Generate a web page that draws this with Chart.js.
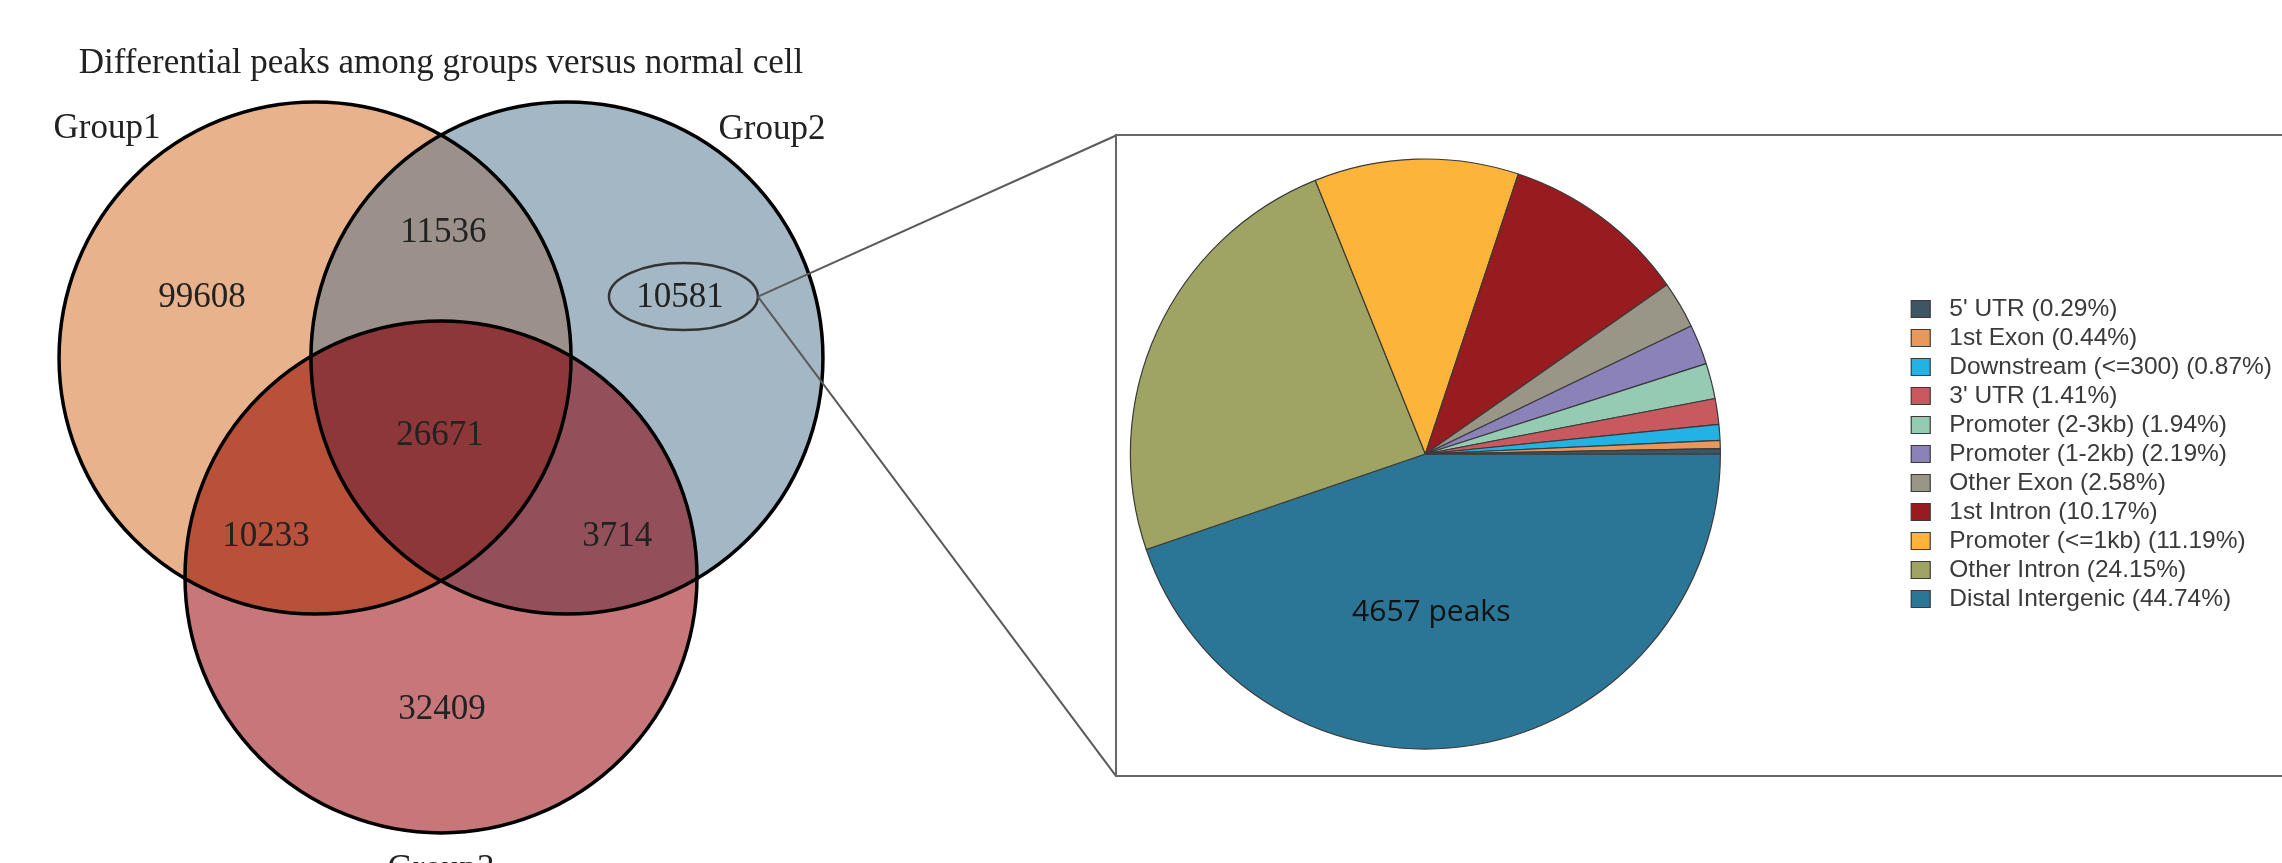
<!DOCTYPE html>
<html>
<head>
<meta charset="utf-8">
<script src="https://cdn.jsdelivr.net/npm/chart.js@4.4.0/dist/chart.umd.min.js"></script>
<style>
  html, body { margin: 0; padding: 0; background: #fff; overflow: hidden; }
  body { width: 2282px; height: 863px; position: relative; }
  #venn { position: absolute; left: 0; top: 0; }
  #zoomBox { position: absolute; left: 1115px; top: 134px; width: 1300px; height: 639px; border: 2px solid #666; }
  #pie { position: absolute; left: 944px; top: 138px; }
</style>
</head>
<body>
<canvas id="venn" width="1120" height="863"></canvas>
<div id="zoomBox"></div>
<canvas id="pie" width="1338" height="636"></canvas>
<script>
// ---- venn data ----
const vennTitle = 'Differential peaks among groups versus normal cell';
const vennSets = ['Group1', 'Group2', 'Group3'];
const vennCenterX = [-0.492, 0.492, 0];
const vennCenterY = [0, 0, -0.855];
const vennRadius = [1, 1, 1];
const setLabelX = [-1.305, 1.293, 0];
const setLabelY = [0.859, 0.855, -2.035];

// regions: which sets they belong to, their counts and label spots
const regionSets = [[0], [0, 1], [1], [0, 1, 2], [0, 2], [1, 2], [2]];
const regionCounts = [99608, 11536, 10581, 26671, 10233, 3714, 32409];
const regionX = [-0.934, 0.009, 0.934, -0.004, -0.684, 0.688, 0.004];
const regionY = [0.245, 0.5, 0.246, -0.293, -0.686, -0.686, -1.362];
const regionColors = ['#E8B38C', '#9B918A', '#A4B7C5', '#8D3738', '#B8503A', '#93505A', '#C7777A'];

// the region picked out for annotation (10581) and the lines to the zoom box
const pickedRegion = 2;
const pickedRx = 0.291, pickedRy = 0.131;
const zoomLineX = [2.637, 2.637];
const zoomLineY = [0.869, -1.633];

// ---- pie data ----
const totalPeaks = 4657;
const annoLabels = ["5' UTR", '1st Exon', 'Downstream (<=300)', "3' UTR", 'Promoter (2-3kb)',
  'Promoter (1-2kb)', 'Other Exon', '1st Intron', 'Promoter (<=1kb)', 'Other Intron', 'Distal Intergenic'];
const annoPercent = [0.29, 0.44, 0.87, 1.41, 1.94, 2.19, 2.58, 10.17, 11.19, 24.15, 44.74];
const annoColors = ['#3E5664', '#E8985A', '#22B2E4', '#C8595E', '#95CBB3', '#8A82B8',
  '#9A9687', '#971B1F', '#FDB43A', '#A0A462', '#2B7697'];

const SERIF = '"Liberation Serif", "Times New Roman", serif';

const vennPlugin = {
  id: 'vennRegions',
  beforeDatasetsDraw(chart) {
    const {ctx, width, height} = chart;
    const {x, y} = chart.scales;
    const px = vennCenterX.map(v => x.getPixelForValue(v));
    const py = vennCenterY.map(v => y.getPixelForValue(v));
    const pr = vennRadius.map(r => x.getPixelForValue(r) - x.getPixelForValue(0));
    regionSets.forEach((members, k) => {
      ctx.save();
      for (let i = 0; i < vennSets.length; i++) {
        ctx.beginPath();
        if (members.includes(i)) {
          ctx.arc(px[i], py[i], pr[i], 0, Math.PI * 2);
          ctx.clip();
        } else {
          ctx.rect(0, 0, width, height);
          ctx.arc(px[i], py[i], pr[i], 0, Math.PI * 2);
          ctx.clip('evenodd');
        }
      }
      ctx.fillStyle = regionColors[k];
      ctx.fillRect(0, 0, width, height);
      ctx.restore();
    });
  },
  afterDatasetsDraw(chart) {
    const {ctx} = chart;
    const {x, y} = chart.scales;
    const unit = x.getPixelForValue(1) - x.getPixelForValue(0);
    ctx.save();
    ctx.fillStyle = '#222';
    ctx.textAlign = 'center';
    ctx.textBaseline = 'alphabetic';
    ctx.font = '35px ' + SERIF;

    // title
    ctx.fillText(vennTitle, x.getPixelForValue(0), y.getPixelForValue(1.115));

    // set names
    vennSets.forEach((s, i) => {
      ctx.fillText(s, x.getPixelForValue(setLabelX[i]), y.getPixelForValue(setLabelY[i]));
    });

    // counts
    regionCounts.forEach((c, k) => {
      ctx.fillText(String(c), x.getPixelForValue(regionX[k]), y.getPixelForValue(regionY[k]) + 12);
    });

    // ellipse around the picked count + lines to the zoom box
    const ex = x.getPixelForValue(regionX[pickedRegion] + 0.013);
    const ey = y.getPixelForValue(regionY[pickedRegion] - 0.006);
    ctx.strokeStyle = '#333';
    ctx.lineWidth = 2.5;
    ctx.beginPath();
    ctx.ellipse(ex, ey, pickedRx * unit, pickedRy * unit, 0, 0, Math.PI * 2);
    ctx.stroke();

    ctx.strokeStyle = '#5a5a5a';
    ctx.lineWidth = 2;
    zoomLineX.forEach((lx, i) => {
      ctx.beginPath();
      ctx.moveTo(ex + pickedRx * unit, ey);
      ctx.lineTo(x.getPixelForValue(lx), y.getPixelForValue(zoomLineY[i]));
      ctx.stroke();
    });
    ctx.restore();
  }
};

new Chart(document.getElementById('venn'), {
  type: 'scatter',
  data: {
    datasets: [{
      label: 'groups',
      data: vennSets.map((s, i) => ({x: vennCenterX[i], y: vennCenterY[i]})),
      showLine: false,
      pointBackgroundColor: 'rgba(0,0,0,0)',
      pointBorderColor: '#000',
      pointBorderWidth: 3.5,
      pointRadius: ctx => {
        const s = ctx.chart.scales.x;
        return s.getPixelForValue(vennRadius[ctx.dataIndex]) - s.getPixelForValue(0);
      },
      clip: false
    }]
  },
  options: {
    responsive: false,
    animation: false,
    layout: {padding: 0},
    scales: {
      x: {type: 'linear', display: false, min: -441 / 256, max: (1120 - 441) / 256},
      y: {type: 'linear', display: false, min: (358 - 863) / 256, max: 358 / 256}
    },
    plugins: {legend: {display: false}, tooltip: {enabled: false}}
  },
  plugins: [vennPlugin]
});

// pie is drawn clockwise from 3 o'clock, so feed it in reverse
const pieLabels = annoLabels.slice().reverse();
const pieValues = annoPercent.slice().reverse();
const pieColors = annoColors.slice().reverse();

const peaksLabel = {
  id: 'peaksLabel',
  afterDatasetsDraw(chart) {
    const arc = chart.getDatasetMeta(0).data[0];
    const {x, y, outerRadius} = arc.getProps(['x', 'y', 'outerRadius'], true);
    const ctx = chart.ctx;
    ctx.save();
    ctx.font = '30px "Open Sans", sans-serif';
    ctx.fillStyle = '#111';
    ctx.textAlign = 'center';
    ctx.textBaseline = 'alphabetic';
    ctx.fillText(totalPeaks + ' peaks', x + 0.02 * outerRadius, y + 0.565 * outerRadius);
    ctx.restore();
  }
};

new Chart(document.getElementById('pie'), {
  type: 'pie',
  data: {
    labels: pieLabels,
    datasets: [{
      data: pieValues,
      backgroundColor: pieColors,
      borderColor: '#3a3a3a',
      borderWidth: 1.2,
      radius: 295,
      rotation: 90
    }]
  },
  options: {
    responsive: false,
    animation: false,
    layout: {padding: {left: 0, right: 0, top: 0, bottom: 4}},
    plugins: {
      tooltip: {enabled: false},
      legend: {
        position: 'right',
        reverse: true,
        labels: {
          boxWidth: 19,
          boxHeight: 17,
          padding: 4.5,
          color: '#3a3a3a',
          font: {family: '"Liberation Sans", Arial, sans-serif', size: 24.5},
          generateLabels(chart) {
            const items = Chart.overrides.pie.plugins.legend.labels.generateLabels(chart);
            items.forEach(it => {
              it.text = ' ' + pieLabels[it.index] + ' (' + pieValues[it.index].toFixed(2) + '%)';
            });
            return items;
          }
        }
      }
    }
  },
  plugins: [peaksLabel]
});
</script>
</body>
</html>
